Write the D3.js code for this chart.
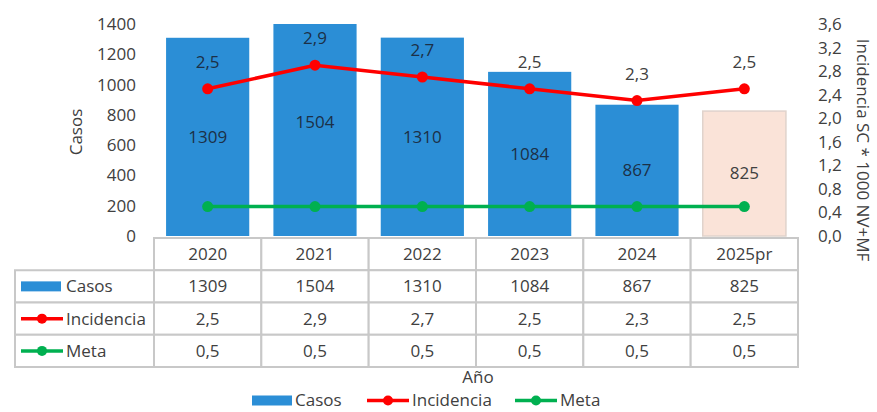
<!DOCTYPE html>
<html lang="es">
<head>
<meta charset="utf-8" />
<title>Casos e incidencia</title>
<script src="https://cdn.jsdelivr.net/npm/d3@7"></script>
<style>
  body { margin: 0; background: #fff; }
  text { font-family: "Open Sans", sans-serif; fill: #404040; }
</style>
</head>
<body>
<svg width="877" height="412"></svg>
<script>
// data
var years = ["2020", "2021", "2022", "2023", "2024", "2025pr"];
var casos = [1309, 1504, 1310, 1084, 867, 825];
var incidencia = [2.5, 2.9, 2.7, 2.5, 2.3, 2.5];
var meta = [0.5, 0.5, 0.5, 0.5, 0.5, 0.5];
var casosTicks = [0, 200, 400, 600, 800, 1000, 1200, 1400];
var incTicks = [0, 0.4, 0.8, 1.2, 1.6, 2.0, 2.4, 2.8, 3.2, 3.6];

var svg = d3.select("svg");
var fs = 17;
var blue = "#2b8ed6", red = "#ff0000", green = "#00b050";

var comma = function (v, f) { return d3.format(f)(v).replace(".", ","); };

// scales
var x = d3.scaleBand().domain(years).range([154, 798]).paddingInner(0.225).paddingOuter(0.1125);
var col = d3.scaleBand().domain(years).range([154, 798]);
var yL = d3.scaleLinear().domain([0, 1400]).range([236, 24]);
var yR = d3.scaleLinear().domain([0, 3.6]).range([236, 24]);

// left axis
var gl = svg.append("g").attr("transform", "translate(142,0)")
    .call(d3.axisLeft(yL).tickValues(casosTicks).tickSize(0).tickPadding(6).tickFormat(d3.format("d")));
gl.select(".domain").remove();
gl.selectAll("text").style("font-size", fs + "px").attr("fill", "#404040").style("font-family", "Open Sans");

svg.append("text").attr("transform", "translate(76,132) rotate(-90)")
    .attr("text-anchor", "middle").attr("dy", "0.35em").style("font-size", fs + "px").text("Casos");

// right axis
var gr = svg.append("g").attr("transform", "translate(812,0)")
    .call(d3.axisRight(yR).tickValues(incTicks).tickSize(0).tickPadding(6)
        .tickFormat(function (d) { return comma(d, ".1f"); }));
gr.select(".domain").remove();
gr.selectAll("text").style("font-size", fs + "px").attr("fill", "#404040").style("font-family", "Open Sans");

svg.append("text").attr("transform", "translate(863,150) rotate(90)")
    .attr("text-anchor", "middle").attr("dy", "0.35em").style("font-size", fs + "px")
    .text("Incidencia SC * 1000 NV+MF");

// bars
var clip = yL.copy().clamp(true);
svg.selectAll(".bar").data(casos).enter().append("rect")
    .attr("x", function (d, i) { return x(years[i]); })
    .attr("width", x.bandwidth())
    .attr("y", function (d) { return clip(d); })
    .attr("height", function (d) { return yL(0) - clip(d); })
    .attr("fill", function (d, i) { return i == 5 ? "#fae3d8" : blue; })
    .attr("stroke", function (d, i) { return i == 5 ? "#e0d3cc" : "none"; })
    .attr("stroke-width", 1.5);

svg.selectAll(".blab").data(casos).enter().append("text")
    .attr("x", function (d, i) { return x(years[i]) + x.bandwidth() / 2; })
    .attr("y", function (d) { return (yL(d) + yL(0)) / 2; })
    .attr("text-anchor", "middle").attr("dy", "0.35em")
    .style("font-size", fs + "px").style("fill", function (d, i) { return i == 5 ? "#404040" : "#1c3047"; })
    .text(function (d) { return d; });

// lines
var cx = function (d, i) { return x(years[i]) + x.bandwidth() / 2; };
function drawLine(vals, color) {
    svg.append("path").datum(vals)
        .attr("d", d3.line().x(cx).y(function (d) { return yR(d); }))
        .attr("fill", "none").attr("stroke", color).attr("stroke-width", 3.5);
    svg.selectAll(null).data(vals).enter().append("circle")
        .attr("cx", cx).attr("cy", function (d) { return yR(d); })
        .attr("r", 5.5).attr("fill", color);
}
drawLine(incidencia, red);
drawLine(meta, green);

svg.selectAll(".ilab").data(incidencia).enter().append("text")
    .attr("x", cx).attr("y", function (d) { return yR(d) - 27; })
    .attr("text-anchor", "middle").attr("dy", "0.35em")
    .style("font-size", fs + "px")
    .style("fill", function (d, i) { return i < 3 ? "#1c3047" : "#404040"; })
    .text(function (d) { return comma(d, ".1f"); });

// data table
var rows = ["head", "Casos", "Incidencia", "Meta"];
var row = d3.scaleBand().domain(rows).range([238, 367]);
var border = "#c8c8c8";

rows.forEach(function (r) {
    if (r != "head") {
        svg.append("rect").attr("x", 15).attr("y", row(r)).attr("width", 154 - 15)
            .attr("height", row.bandwidth()).attr("fill", "#fff")
            .attr("stroke", border).attr("stroke-width", 2);
    }
    years.forEach(function (yr) {
        svg.append("rect").attr("x", col(yr)).attr("y", row(r)).attr("width", col.bandwidth())
            .attr("height", row.bandwidth()).attr("fill", "#fff")
            .attr("stroke", border).attr("stroke-width", 2);
    });
});

var tableVals = {
    head: years,
    Casos: casos.map(String),
    Incidencia: incidencia.map(function (d) { return comma(d, ".1f"); }),
    Meta: meta.map(function (d) { return comma(d, ".1f"); })
};
rows.forEach(function (r) {
    svg.selectAll(null).data(tableVals[r]).enter().append("text")
        .attr("x", function (d, i) { return col(years[i]) + col.bandwidth() / 2; })
        .attr("y", row(r) + row.bandwidth() / 2)
        .attr("text-anchor", "middle").attr("dy", "0.35em")
        .style("font-size", fs + "px").text(function (d) { return d; });
});

// legend keys
function key(g, name, xk, yk) {
    if (name == "Casos") {
        g.append("rect").attr("x", xk).attr("y", yk - 5).attr("width", 40).attr("height", 10).attr("fill", blue);
    } else {
        var c = name == "Incidencia" ? red : green;
        g.append("line").attr("x1", xk).attr("x2", xk + 42).attr("y1", yk).attr("y2", yk)
            .attr("stroke", c).attr("stroke-width", 3.5);
        g.append("circle").attr("cx", xk + 21).attr("cy", yk).attr("r", 5).attr("fill", c);
    }
}
["Casos", "Incidencia", "Meta"].forEach(function (r) {
    var yc = row(r) + row.bandwidth() / 2;
    key(svg, r, 21, yc);
    svg.append("text").attr("x", 66).attr("y", yc).attr("dy", "0.35em")
        .style("font-size", fs + "px").text(r);
});

// x title and bottom legend
svg.append("text").attr("x", 478).attr("y", 377).attr("text-anchor", "middle").attr("dy", "0.35em")
    .style("font-size", fs + "px").text("Año");

var leg = [["Casos", 252], ["Incidencia", 367], ["Meta", 515]];
leg.forEach(function (l) {
    key(svg, l[0], l[1], 400.5);
    svg.append("text").attr("x", l[1] + (l[0] == "Casos" ? 43 : 45)).attr("y", 400.5).attr("dy", "0.35em")
        .style("font-size", fs + "px").text(l[0]);
});
</script>
</body>
</html>
